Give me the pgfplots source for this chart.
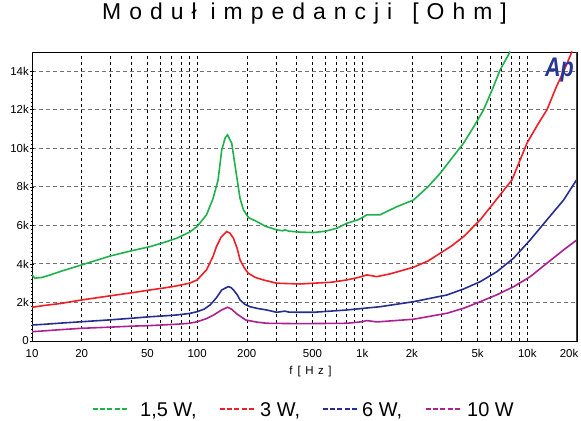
\documentclass[border=0pt]{standalone}
\usepackage{graphicx}
\usepackage{pgfplots}
\pgfplotsset{compat=1.18}
\usepackage{fontspec}
\setmainfont{Liberation Sans}
\newfontfamily\titlefont[LetterSpace=35]{Liberation Sans}
\newfontfamily\labelfont[LetterSpace=40]{Liberation Sans}
\definecolor{cgreen}{RGB}{30,178,75}
\definecolor{cred}{RGB}{240,30,38}
\definecolor{cblue}{RGB}{38,46,146}
\definecolor{cmag}{RGB}{172,32,146}
\definecolor{apblue}{RGB}{40,52,150}
\begin{document}
\begin{tikzpicture}
\begin{axis}[
  at={(0,0)}, anchor=south west,
  scale only axis, width=545bp, height=289bp,
  xmode=log, xmin=10, xmax=20000, ymin=0, ymax=15000,
  scaled y ticks=false,
  xtick={10,20,30,40,50,60,70,80,90,100,200,300,400,500,600,700,800,900,1000,2000,3000,4000,5000,6000,7000,8000,9000,10000,20000},
  xticklabels={10,20,{},{},50,{},{},{},{},100,200,{},{},500,{},{},{},{},1k,2k,{},{},5k,{},{},{},{},10k,{\hspace*{-16bp}20k}},
  ytick={0,2000,4000,6000,8000,10000,12000,14000},
  yticklabels={0,2k,4k,6k,8k,10k,12k,14k},
  minor y tick num=9,
  xtick pos=bottom, ytick pos=left,
  xtick style={draw=none},
  tick align=center,
  major tick length=5bp, minor tick length=3bp,
  ytick style={black, line width=0.6bp},
  grid=major,
  major x grid style={black, dash pattern=on 3bp off 3bp, line width=0.6bp},
  major y grid style={black!55, dash pattern=on 4bp off 3bp, line width=0.9bp},
  axis line style={black, line width=0.8bp},
  tick label style={font=\fontsize{11.5}{13}\selectfont},
  yticklabel style={inner xsep=0.5bp},
  xticklabel style={yshift=-2bp},
  /pgf/number format/assume math mode=true,
  title={\titlefont Moduł\hspace*{14bp}impedancji\hspace*{20bp}[Ohm]},
  title style={at={(axis description cs:0.5,1)}, anchor=center, yshift=32bp, font=\fontsize{23}{26}\selectfont},
  xlabel={\labelfont f\hspace*{5bp}[Hz]},
  xlabel style={at={(axis description cs:0.5,0)}, anchor=center, yshift=-31bp, xshift=6bp, font=\fontsize{11.5}{13}\selectfont},
  every axis plot/.append style={line width=1.6bp},
]
\addplot[draw=cgreen] coordinates {
(10,3430)(10.4,3260)(11.5,3300)(12.9,3430)(15,3620)(20,3950)(30,4420)(40,4680)(52,4900)(65,5150)(75,5330)(90,5650)(100,5940)(114,6550)(125,7400)(134,8360)(141,9920)(148,10550)(153,10700)(158,10450)(162,10270)(175,8360)(182,7400)(191,6800)(205,6400)(230,6200)(260,5950)(303,5770)(330,5720)(340,5770)(360,5700)(422,5650)(507,5630)(600,5700)(700,5850)(807,6110)(950,6300)(1000,6400)(1067,6550)(1285,6550)(1600,6950)(2046,7320)(2500,8000)(2972,8710)(3500,9500)(4112,10270)(4800,11200)(5434,12000)(6100,13000)(6853,14080)(7884,15030)
};
\addplot[draw=cred] coordinates {
(10,1750)(12,1850)(15,1950)(20,2130)(30,2350)(40,2500)(52,2650)(65,2770)(75,2860)(90,3000)(100,3170)(114,3690)(125,4400)(131,4900)(140,5400)(151,5680)(158,5600)(166,5330)(175,4800)(182,4210)(193,3800)(204,3520)(225,3300)(252,3170)(303,3000)(422,2960)(507,3000)(650,3050)(807,3170)(950,3300)(1067,3430)(1228,3340)(1500,3500)(2046,3830)(2500,4150)(2972,4560)(3500,4950)(4112,5420)(5188,6290)(6470,7320)(8070,8360)(9953,10270)(11500,11200)(13150,12000)(15000,13200)(17000,14200)(18660,15030)
};
\addplot[draw=cblue] coordinates {
(10,830)(12,870)(15,930)(20,1000)(30,1100)(40,1180)(52,1260)(65,1310)(75,1350)(90,1430)(100,1520)(110,1650)(120,1870)(131,2250)(141,2650)(154,2820)(160,2780)(166,2650)(175,2400)(182,2130)(195,1900)(209,1780)(235,1680)(264,1610)(303,1490)(340,1550)(360,1500)(422,1490)(507,1490)(807,1610)(1285,1780)(2046,2040)(3260,2390)(4112,2700)(5188,3080)(6546,3600)(8260,4300)(10420,5250)(13150,6290)(16600,7320)(20000,8400)
};
\addplot[draw=cmag] coordinates {
(10,480)(12,530)(15,590)(20,660)(30,720)(40,770)(52,800)(75,870)(90,920)(100,1000)(113,1150)(126,1350)(140,1600)(153,1750)(162,1650)(172,1440)(185,1250)(197,1090)(230,980)(264,920)(422,900)(807,920)(1000,1000)(1067,1060)(1228,990)(2046,1130)(3260,1440)(4112,1700)(5188,2040)(6546,2400)(8260,2820)(10420,3340)(13150,4040)(16600,4730)(20000,5250)
};
\draw[line width=2bp, black!75] (rel axis cs:1,0) -- (rel axis cs:1,1);
\node[anchor=north east, inner sep=0pt, text=apblue] at (rel axis cs:1,1) [xshift=-3bp, yshift=-6bp] {\scalebox{0.8}[1]{\fontsize{27}{27}\selectfont\bfseries\itshape Ap}};
\end{axis}
% legend (drawn below the axis)
\begin{scope}[line width=1.6bp, dash pattern=on 5bp off 2.2bp]
\draw[cgreen] (61bp,-68bp) -- (95bp,-68bp);
\draw[cred] (188bp,-68bp) -- (222bp,-68bp);
\draw[cblue] (291bp,-68bp) -- (325bp,-68bp);
\draw[cmag] (394bp,-68bp) -- (428bp,-68bp);
\end{scope}
\begin{scope}[every node/.style={anchor=base west, inner sep=0pt, font=\fontsize{20}{24}\selectfont}]
\node at (108bp,-75bp) {1,5 W,};
\node at (228bp,-75bp) {3 W,};
\node at (330bp,-75bp) {6 W,};
\node at (435bp,-75bp) {10 W};
\end{scope}
\pgfresetboundingbox
\path[use as bounding box] (-32bp,-80bp) rectangle (549bp,341bp);
\end{tikzpicture}
\end{document}
